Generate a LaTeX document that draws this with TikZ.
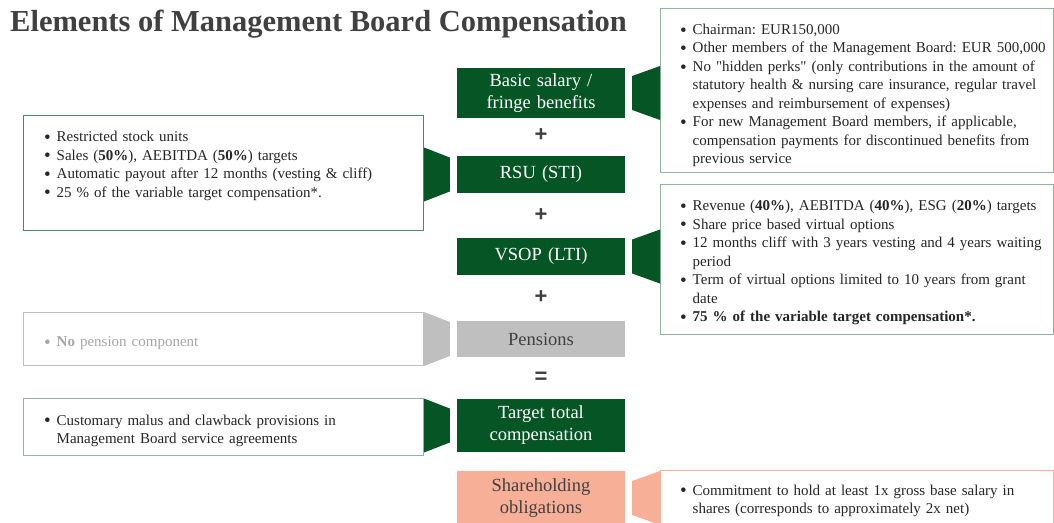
\documentclass[tikz,border=0pt]{standalone}
\usepackage{fontspec}
\setmainfont{Liberation Serif}[Ligatures=TeXOff]
\newfontfamily\signfont{Liberation Sans}
\usetikzlibrary{calc}
\frenchspacing

\definecolor{boardgreen}{HTML}{055624}
\definecolor{sage}{HTML}{8FB59B}
\definecolor{deepsage}{HTML}{4E8A60}
\definecolor{pensiongray}{HTML}{BFBFBF}
\definecolor{palegray}{HTML}{A6A6A6}
\definecolor{salmon}{HTML}{F8AF98}
\definecolor{darktext}{HTML}{262626}
\definecolor{titlegray}{HTML}{404040}

% bullet item with hanging indent
\newcommand{\itm}{\par\hangindent=12.5pt\hangafter=1\noindent
  \makebox[12.5pt][l]{\raisebox{-1.6pt}{\fontsize{19}{0}\selectfont\textbullet}}}

% wedge from a centre box to a box on its right / left
\newcommand{\rightwedge}[3]{%
  \fill[#3] ($(#1.east)+(7,-17)$) -- ($(#1.east)+(7,17)$)
    -- ($(#1.east -| #2.west)+(0,27)$) -- ($(#1.east -| #2.west)+(0,-27)$) -- cycle;}
\newcommand{\leftwedge}[3]{%
  \fill[#3] ($(#1.west)+(-7,-17)$) -- ($(#1.west)+(-7,17)$)
    -- ($(#1.west -| #2.east)+(0,27)$) -- ($(#1.west -| #2.east)+(0,-27)$) -- cycle;}

\begin{document}
\begin{tikzpicture}[x=1pt, y=-1pt,
    part/.style={fill=boardgreen, text=white, minimum width=168pt, text width=164pt,
      align=center, inner sep=0pt, font=\fontsize{18.5}{22}\selectfont},
    sign/.style={text=titlegray, inner sep=0pt, font=\signfont\bfseries\fontsize{22}{22}\selectfont},
    info/.style={draw=sage, fill=white, line width=1pt, inner sep=0pt, anchor=north west},
    bullets/.style={anchor=west, align=left, inner sep=0pt, text width=380pt,
      text=darktext, font=\fontsize{15}{18.5}\selectfont}]
  \useasboundingbox (0,0) rectangle (1054,522);

  \node[anchor=base west, inner sep=0pt, text=titlegray,
    font=\fontsize{30.5}{36}\selectfont\bfseries] (title) at (10,31)
    {Elements of Management Board Compensation};

  % centre column
  \node[part, minimum height=50pt] (basic) at (541,93) {Basic salary /\\ fringe benefits};
  \node[sign] (plus1) at (541,135) {+};
  \node[part, minimum height=37pt] (rsu) at (541,174.5) {RSU (STI)};
  \node[sign] (plus2) at (541,215) {+};
  \node[part, minimum height=37pt] (vsop) at (541,256.5) {VSOP (LTI)};
  \node[sign] (plus3) at (541,297) {+};
  \node[part, minimum height=36pt, fill=pensiongray, text=titlegray] (pension) at (541,339) {Pensions};
  \node[sign] (equals) at (541,378) {=};
  \node[part, minimum height=53pt] (total) at (541,425.5) {Target total\\ compensation};
  \node[part, minimum height=54pt, fill=salmon, text=titlegray] (shares) at (541,498) {Shareholding\\ obligations};

  % boxes around it
  \node[info, minimum width=393pt, minimum height=164pt] (basicbox) at (660,8) {};
  \node[info, draw=deepsage, minimum width=400pt, minimum height=115pt] (rsubox) at (23,115) {};
  \node[info, minimum width=393pt, minimum height=150pt] (vsopbox) at (660,184) {};
  \node[info, draw=pensiongray, minimum width=400pt, minimum height=53pt] (pensionbox) at (23,312) {};
  \node[info, minimum width=400pt, minimum height=57pt] (totalbox) at (23,398) {};
  \node[info, draw=salmon, minimum width=393pt, minimum height=60pt] (sharesbox) at (660,470) {};

  \rightwedge{basic}{basicbox}{boardgreen}
  \leftwedge{rsu}{rsubox}{boardgreen}
  \rightwedge{vsop}{vsopbox}{boardgreen}
  \leftwedge{pension}{pensionbox}{pensiongray}
  \leftwedge{total}{totalbox}{boardgreen}
  \rightwedge{shares}{sharesbox}{salmon}

  \node[bullets] (basictext) at (680,91.5) {%
    \itm Chairman: EUR150,000
    \itm Other members of the Management Board: EUR 500,000
    \itm No "hidden perks" (only contributions in the amount of\newline
      statutory health \& nursing care insurance, regular travel\newline
      expenses and reimbursement of expenses)
    \itm For new Management Board members, if applicable,\newline
      compensation payments for discontinued benefits from\newline
      previous service\par};
  \node[bullets] (rsutext) at (44,162) {%
    \itm Restricted stock units
    \itm Sales (\textbf{50\%}), AEBITDA (\textbf{50\%}) targets
    \itm Automatic payout after 12 months (vesting \& cliff)
    \itm 25 \% of the variable target compensation*.\par};
  \node[bullets] (vsoptext) at (680,258.5) {%
    \itm Revenue (\textbf{40\%}), AEBITDA (\textbf{40\%}), ESG (\textbf{20\%}) targets
    \itm Share price based virtual options
    \itm 12 months cliff with 3 years vesting and 4 years waiting\newline period
    \itm Term of virtual options limited to 10 years from grant\newline date
    \itm \textbf{75 \% of the variable target compensation*.}\par};
  \node[bullets, text=palegray] (pensiontext) at (44,339) {%
    \itm \textbf{No} pension component\par};
  \node[bullets] (totaltext) at (44,427) {%
    \itm Customary malus and clawback provisions in\newline
      Management Board service agreements\par};
  \node[bullets] (sharestext) at (680,497) {%
    \itm Commitment to hold at least 1x gross base salary in\newline
      shares (corresponds to approximately 2x net)\par};
\end{tikzpicture}
\end{document}
